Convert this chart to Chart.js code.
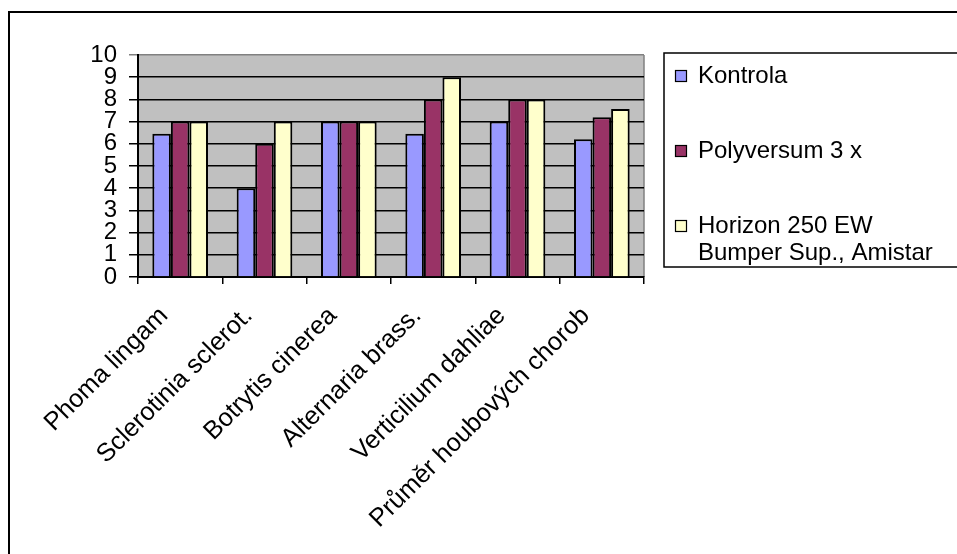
<!DOCTYPE html>
<html>
<head>
<meta charset="utf-8">
<script src="https://cdn.jsdelivr.net/npm/chart.js@4.4.1/dist/chart.umd.min.js"></script>
<style>
  html, body { margin: 0; padding: 0; background: #fff; }
  #wrap { position: relative; width: 957px; height: 554px; }
</style>
</head>
<body>
<div id="wrap"><canvas id="myChart" width="957" height="554"></canvas></div>
<script>
// categories and series
const categories = ["Phoma lingam", "Sclerotinia sclerot.", "Botrytis cinerea", "Alternaria brass.", "Verticilium dahliae", "Průměr houbových chorob"];
const kontrola = [6.45, 4, 7, 6.45, 7, 6.2];
const polyversum = [7, 6, 7, 8, 8, 7.2];
const horizon = [7, 7, 7, 9, 8, 7.57];
const seriesNames = [["Kontrola"], ["Polyversum 3 x"], ["Horizon 250 EW", "Bumper Sup., Amistar"]];
const seriesColors = ["#9999FF", "#993366", "#FFFFCC"];
const yTicks = [0, 1, 2, 3, 4, 5, 6, 7, 8, 9, 10];

const FONT = "Arial, 'Liberation Sans', sans-serif";

// grey plot background + frame of the whole chart
const frame = {
	id: "frame",
	beforeDraw(chart) {
		const c = chart.ctx, a = chart.chartArea;
		c.save();
		c.fillStyle = "#c0c0c0";
		c.fillRect(a.left, a.top, a.right - a.left, a.bottom - a.top);
		c.strokeStyle = "#808080";
		c.lineWidth = 1.5;
		c.beginPath();
		c.moveTo(a.right, a.top);
		c.lineTo(a.right, a.bottom);
		c.stroke();
		c.strokeStyle = "#000";
		c.lineWidth = 2;
		c.beginPath();
		c.moveTo(9, 560);
		c.lineTo(9, 12);
		c.lineTo(960, 12);
		c.stroke();
		c.restore();
	}
};

// legend box on the right, drawn by hand because of the two-line entry
const sideLegend = {
	id: "sideLegend",
	afterDraw(chart) {
		const c = chart.ctx;
		c.save();
		c.strokeStyle = "#000";
		c.lineWidth = 1.5;
		c.strokeRect(664, 53, 320, 214);
		c.font = "24px " + FONT;
		c.textBaseline = "middle";
		const rowY = [76, 151, 226];
		chart.data.datasets.forEach((ds, i) => {
			const y = rowY[i];
			c.fillStyle = ds.backgroundColor;
			c.fillRect(675, y - 6, 11, 11);
			c.lineWidth = 1.2;
			c.strokeRect(675.5, y - 5.5, 11, 11);
			c.fillStyle = "#000";
			seriesNames[i].forEach((line, j) => c.fillText(line, 698, y + j * 27));
		});
		c.restore();
	}
};

const ctx = document.getElementById("myChart");
const myChart = new Chart(ctx, {
	type: "bar",
	data: {
		labels: categories,
		datasets: [
			{ label: seriesNames[0].join(" "), data: kontrola, backgroundColor: seriesColors[0] },
			{ label: seriesNames[1].join(" "), data: polyversum, backgroundColor: seriesColors[1] },
			{ label: seriesNames[2].join(" "), data: horizon, backgroundColor: seriesColors[2] }
		].map(d => Object.assign(d, {
			borderColor: "#000",
			borderWidth: 2,
			categoryPercentage: 0.66,
			barPercentage: 1
		}))
	},
	options: {
		responsive: false,
		animation: false,
		layout: { padding: { left: 0, top: 55, right: 313, bottom: 0 } },
		plugins: {
			legend: { display: false },
			tooltip: { enabled: false }
		},
		scales: {
			x: {
				grid: { drawOnChartArea: false, drawTicks: true, tickLength: 7, color: "#000", lineWidth: 1.5 },
				border: { color: "#000", width: 2 },
				ticks: {
					color: "#000",
					font: { family: FONT, size: 25.5 },
					minRotation: 45,
					maxRotation: 45,
					autoSkip: false,
					labelOffset: -16,
					padding: 17
				},
				afterFit(scale) { scale.height = 277; }
			},
			y: {
				min: 0,
				max: 10,
				afterBuildTicks(scale) { scale.ticks = yTicks.map(v => ({ value: v })); },
				grid: {
					color: c => c.tick && c.tick.value === 10 ? "#808080" : "#000",
					lineWidth: 1.5,
					tickLength: 9
				},
				border: { color: "#000", width: 2 },
				ticks: {
					color: "#000",
					font: { family: FONT, size: 24, lineHeight: 1 },
					autoSkip: false,
					padding: 12
				},
				afterFit(scale) { scale.width = 138; }
			}
		}
	},
	plugins: [frame, sideLegend]
});
</script>
</body>
</html>
